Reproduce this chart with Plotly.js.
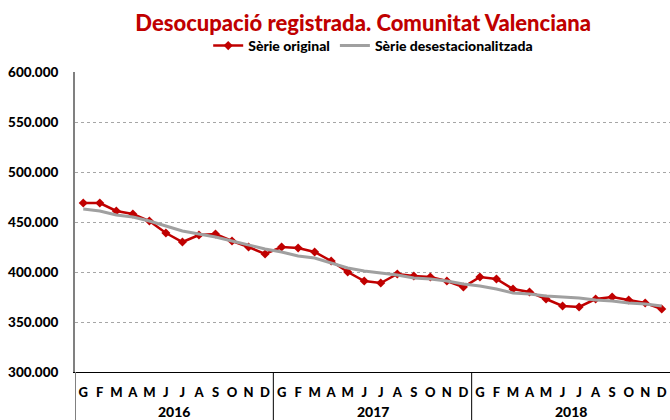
<!DOCTYPE html>
<html><head><meta charset="utf-8">
<script src="https://cdn.plot.ly/plotly-3.0.1.min.js"></script>
<style>html,body{margin:0;padding:0;background:#fff}</style>
</head><body><div id="chart" style="width:670px;height:420px"></div>
<script>
const months = ['G','F','M','A','M','J','J','A','S','O','N','D'];
const years = ['2016','2017','2018'];
const original = [469000,469000,461000,458000,451000,439000,430000,437000,438000,431000,425000,418000,
                  425000,424000,420000,411000,400000,391000,389000,398000,396000,395000,391000,385000,
                  395000,393000,383000,380000,373000,366000,365000,373000,375000,372000,369000,363000];
const desest = [463000,461000,457000,455000,451000,446000,441000,438000,435000,431000,427000,423000,
                420000,416000,414000,409000,404000,401000,399000,397000,394000,393000,391000,388000,
                386000,383000,379000,378000,376000,375000,374000,372000,371000,369000,368000,366000];

const idx = original.map((_, i) => i);
const monthLabels = years.flatMap(() => months);
const FONT = 'Lato, "Open Sans", sans-serif';

const traces = [
  {x: idx, y: original, name: 'Sèrie original', type: 'scatter', mode: 'lines+markers',
   line: {color: '#C00000', width: 2.5}, marker: {symbol: 'diamond', size: 7, color: '#C00000'}},
  {x: idx, y: desest, name: 'Sèrie desestacionalitzada', type: 'scatter', mode: 'lines',
   line: {color: '#A0A0A0', width: 3}}
];

const nm = months.length;
const shapes = [
  {type: 'line', xref: 'x', yref: 'paper', x0: -0.5, x1: -0.5, y0: 0, y1: -0.16, line: {color: '#808080', width: 2}}
];
const annotations = [];
years.forEach((yr, k) => {
  if (k > 0) shapes.push({type: 'line', xref: 'x', yref: 'paper', x0: k*nm - 0.5, x1: k*nm - 0.5, y0: 0, y1: -0.16, line: {color: '#000', width: 1}});
  annotations.push({xref: 'x', yref: 'paper', x: k*nm + (nm-1)/2, y: -0.133, yanchor: 'middle', showarrow: false,
    text: yr, font: {family: FONT, size: 14, color: '#000', weight: 900}});
});

const layout = {
  width: 670, height: 420,
  margin: {l: 75, r: 0, t: 72, b: 48},
  paper_bgcolor: '#fff', plot_bgcolor: '#fff',
  separators: ',.',
  showlegend: true,
  title: {text: 'Desocupació registrada. Comunitat Valenciana', x: 0.542, xanchor: 'center',
          y: 1 - 23/420, yanchor: 'middle', font: {family: FONT, size: 22, color: '#C00000', weight: 900}},
  legend: {orientation: 'h', xref: 'container', yref: 'container', x: 0.557, xanchor: 'center',
           y: 1 - 46/420, yanchor: 'middle', font: {family: FONT, size: 14, color: '#000', weight: 900},
           itemwidth: 30, tracegroupgap: 0},
  xaxis: {range: [-0.5, 35.5], tickvals: idx, ticktext: monthLabels, showgrid: false, zeroline: false,
          showline: true, linecolor: '#000', linewidth: 1, ticks: '', ticklabelstandoff: 8,
          tickfont: {family: FONT, size: 13, color: '#000', weight: 900}, fixedrange: true},
  yaxis: {range: [300000, 600000], dtick: 50000, tickformat: ',d', showgrid: true, gridcolor: '#A6A6A6',
          griddash: 'dot', gridwidth: 1, zeroline: false, showline: true, linecolor: '#808080', linewidth: 2,
          ticks: '', ticklabelstandoff: 12, tickfont: {family: FONT, size: 13.5, color: '#000', weight: 900}},
  shapes: shapes,
  annotations: annotations
};

Plotly.newPlot('chart', traces, layout, {displayModeBar: false, staticPlot: true});
</script>
</body></html>
